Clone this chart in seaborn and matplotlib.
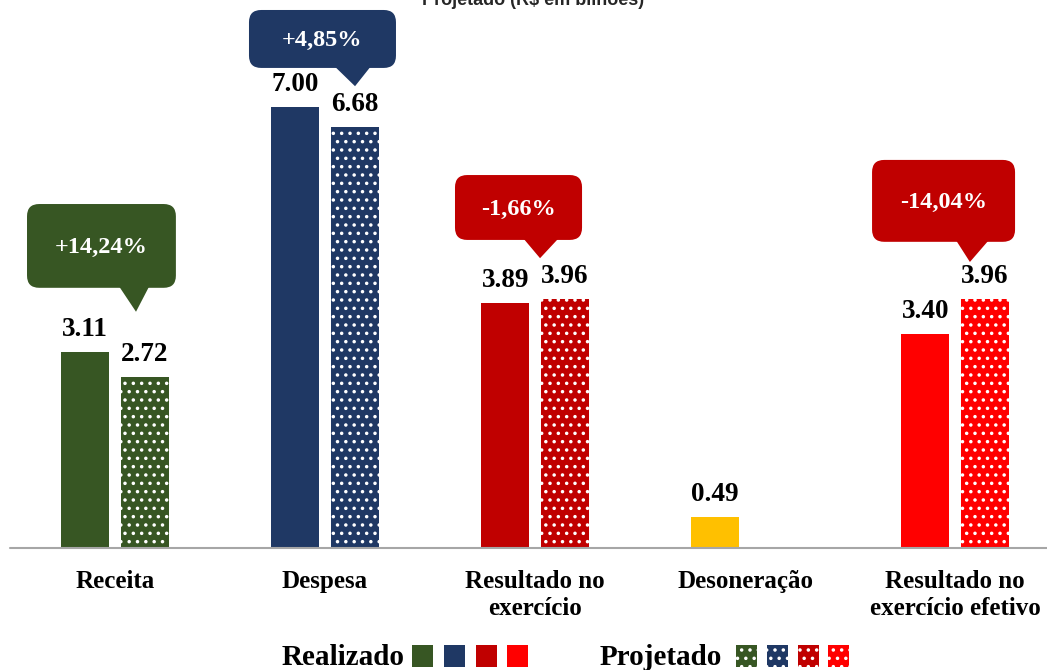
import numpy as np
import pandas as pd
import matplotlib
matplotlib.use('Agg')
import matplotlib.pyplot as plt
import seaborn as sns
from matplotlib.patches import FancyBboxPatch, Polygon, Rectangle

# ---------------- data ----------------
categorias = ['Receita', 'Despesa', 'Resultado no\nexercício', 'Desoneração',
              'Resultado no\nexercício efetivo']
realizado = [3.11, 7.00, 3.89, 0.49, 3.40]
projetado = [2.72, 6.68, 3.96, np.nan, 3.96]
variacao = ['+14,24%', '+4,85%', '-1,66%', None, '-14,04%']
cores = ['#375623', '#1F3864', '#C00000', '#FFC000', '#FF0000']
cores_callout = ['#375623', '#1F3864', '#C00000', None, '#C00000']
tipos = ['Realizado', 'Projetado']

# callout layout (data units): box x0,x1,y0,y1 ; tail base x0,x1 ; tip x,y
callout_layout = {
    0: dict(box=(-0.419, 0.290, 4.13, 5.46), base=(0.014, 0.167), tip=(0.100, 3.75)),
    1: dict(box=(0.638, 1.338, 7.62, 8.54), base=(1.038, 1.224), tip=(1.143, 7.33)),
    2: dict(box=(1.619, 2.224, 4.89, 5.92), base=(1.938, 2.119), tip=(2.024, 4.60)),
    4: dict(box=(3.605, 4.286, 4.86, 6.16), base=(4.000, 4.167), tip=(4.071, 4.54)),
}

rows = []
for c, r, p in zip(categorias, realizado, projetado):
    rows.append(dict(categoria=c, tipo='Realizado', valor=r))
    rows.append(dict(categoria=c, tipo='Projetado', valor=p))
df = pd.DataFrame(rows)

# ---------------- style ----------------
sns.set_theme(style='white')
plt.rcParams['font.family'] = ['Liberation Serif', 'DejaVu Serif']
plt.rcParams['hatch.linewidth'] = 1.3

W, H = 1047, 670
fig = plt.figure(figsize=(W / 100, H / 100), dpi=100)
ax = fig.add_axes([0, 122 / H, 1, 548 / H])

sns.barplot(data=df, x='categoria', y='valor', hue='tipo', order=categorias,
            hue_order=tipos, width=0.567, gap=0.19, saturation=1,
            legend=False, ax=ax)

ax.set_xlim(-115 / 210, (W - 115) / 210)
ax.set_ylim(0, 548 / 63)

for ci, cont in enumerate(ax.containers):
    for bar in cont:
        h = bar.get_height()
        if h is None or np.isnan(h):
            continue
        idx = int(round(bar.get_x() + bar.get_width() / 2))
        bar.set_facecolor(cores[idx])
        if ci == 1:
            bar.set_edgecolor('white')
            bar.set_linewidth(0)
            bar.set_hatch('..')
        else:
            bar.set_edgecolor(cores[idx])
            bar.set_linewidth(0)
        ax.annotate(f'{h:.2f}', (bar.get_x() + bar.get_width() / 2, h),
                    xytext=(0, 7), textcoords='offset points',
                    ha='center', va='bottom', fontsize=19.5,
                    fontweight='bold', color='black')

ax.set_xlabel('')
ax.set_ylabel('')
ax.set_yticks([])
ax.set_xticks(range(len(categorias)))
ax.set_xticklabels(categorias, fontsize=18, fontweight='bold', linespacing=1.2)
ax.tick_params(axis='x', length=0, pad=16, colors='black')
for s in ax.spines.values():
    s.set_visible(False)
ax.axhline(0, xmin=10 / W, xmax=1, color='#A6A6A6', lw=1.5, clip_on=False)

# ---------------- callouts ----------------
aspect = 210 / 63
for idx, lay in callout_layout.items():
    col = cores_callout[idx]
    x0, x1, y0, y1 = lay['box']
    box = FancyBboxPatch((x0, y0), x1 - x0, y1 - y0,
                         boxstyle='round,pad=0,rounding_size=0.058',
                         mutation_aspect=aspect,
                         facecolor=col, edgecolor='none', zorder=5, clip_on=False)
    ax.add_patch(box)
    bx0, bx1 = lay['base']
    tx, ty = lay['tip']
    tail = Polygon([(bx0, y0 + 0.05), (bx1, y0 + 0.05), (tx, ty)], closed=True,
                   facecolor=col, edgecolor='none', zorder=5)
    ax.add_patch(tail)
    ax.text((x0 + x1) / 2, (y0 + y1) / 2 - 0.03, variacao[idx], ha='center', va='center',
            color='white', fontsize=17.5, fontweight='bold', zorder=6)

# ---------------- title (cut off at top, as in the reference) ----------------
fig.text(533 / W, 1 - 5 / H, 'Projetado (R$ em bilhões)', ha='center', va='baseline',
         fontsize=13, fontweight='bold', family=['Liberation Sans', 'DejaVu Sans'],
         color='#262626')

# ---------------- legend ----------------
ybase = (H - 665) / H
fig.text(282 / W, ybase, 'Realizado', fontsize=21, fontweight='bold', va='baseline',
         color='black')
fig.text(600 / W, ybase, 'Projetado', fontsize=21, fontweight='bold', va='baseline',
         color='black')
sq_w, sq_h = 21 / W, 22 / H
sq_y = (H - 667) / H
leg_cores = [cores[0], cores[1], cores[2], cores[4]]
for xpx, c in zip([412, 444, 476, 507], leg_cores):
    fig.patches.append(Rectangle((xpx / W, sq_y), sq_w, sq_h, transform=fig.transFigure,
                                 facecolor=c, edgecolor=c, lw=0, figure=fig))
for xpx, c in zip([736, 767, 798, 828], leg_cores):
    fig.patches.append(Rectangle((xpx / W, sq_y), sq_w, sq_h, transform=fig.transFigure,
                                 facecolor=c, edgecolor='white', lw=0, hatch='..',
                                 figure=fig))

fig.savefig('out.png', dpi=100)
